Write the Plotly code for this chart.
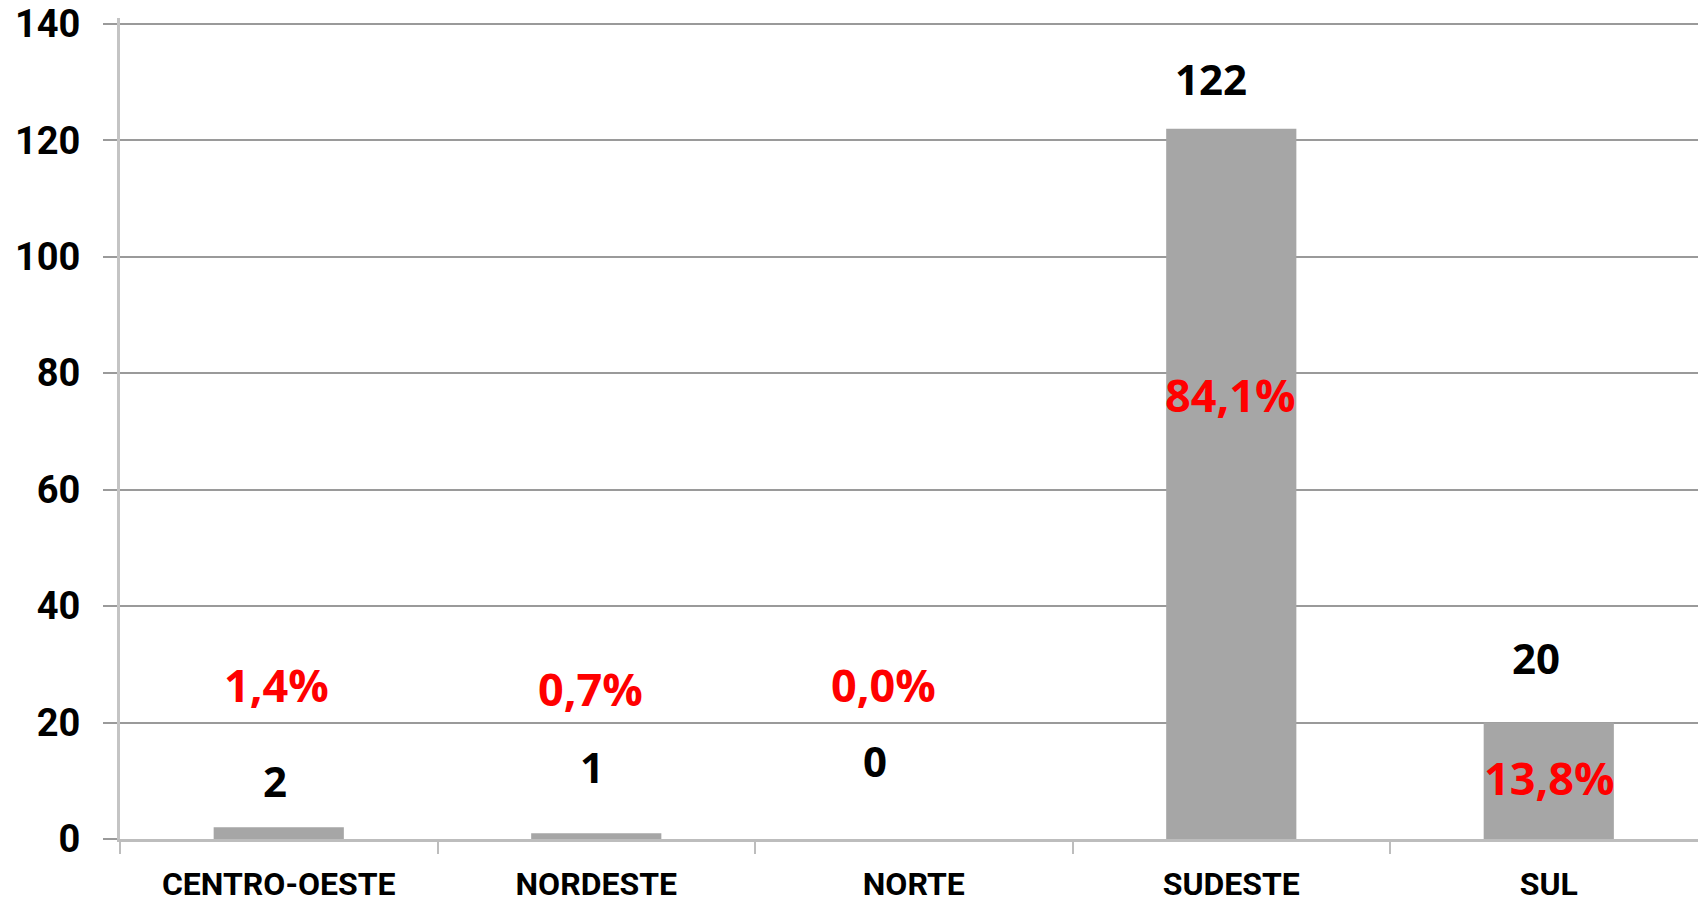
import plotly.graph_objects as go

categories = ["CENTRO-OESTE", "NORDESTE", "NORTE", "SUDESTE", "SUL"]
values = [2, 1, 0, 122, 20]
y_ticks = [0, 20, 40, 60, 80, 100, 120, 140]

# label placement (data-y of label centre, horizontal pixel shift)
count_label_y = [10.1, 12.4, 13.4, 130.6, 31.1]
count_label_dx = [-4, -4, -39, -20, -13]
pct_label_y = [26.6, 25.9, 26.6, 76.3, 10.5]
pct_label_dx = [-2, -6, -30, -1, 1]

total = sum(values)
pct_labels = [f"{v / total * 100:.1f}%".replace(".", ",") for v in values]

FONT = "Open Sans"
AXFONT = "Roboto"
fig = go.Figure()
fig.add_bar(x=categories, y=values, width=0.41, marker=dict(color="#a6a6a6", line=dict(width=0)),
            hoverinfo="x+y")

ann = []
for c, v, ly, dx in zip(categories, values, count_label_y, count_label_dx):
    ann.append(dict(x=c, y=ly, text=f"<b>{v}</b>", showarrow=False, xshift=dx,
                    xanchor="center", yanchor="middle",
                    font=dict(family=FONT, size=42, color="#000000")))
for c, p, ly, dx in zip(categories, pct_labels, pct_label_y, pct_label_dx):
    ann.append(dict(x=c, y=ly, text=f"<b>{p}</b>", showarrow=False, xshift=dx,
                    xanchor="center", yanchor="middle",
                    font=dict(family=FONT, size=45, color="#ff0000")))

fig.update_layout(
    width=1698, height=904,
    margin=dict(l=120, r=0, t=18, b=65),
    paper_bgcolor="white", plot_bgcolor="white",
    showlegend=False,
    annotations=ann,
)
fig.update_xaxes(
    type="category", range=[-0.5, 4.47], automargin=False,
    showline=True, linecolor="#bdbdbd", linewidth=3,
    ticks="outside", tickson="boundaries", ticklen=12, tickcolor="#bdbdbd", tickwidth=2,
    ticklabelstandoff=15,
    tickfont=dict(family=AXFONT, size=32, color="#000000", weight="bold"),
    showgrid=False, zeroline=False,
)
fig.update_yaxes(
    range=[0, 141], tickvals=y_ticks, automargin=False,
    showline=True, linecolor="#c4c4c4", linewidth=3,
    ticks="outside", ticklen=14, tickcolor="#9a9a9a", tickwidth=2,
    ticklabelstandoff=15, ticklabeloverflow="allow",
    showgrid=True, gridcolor="#9a9a9a", gridwidth=2,
    zeroline=False,
    tickfont=dict(family=AXFONT, size=38, color="#000000", weight="bold"),
)

post = ("document.body.style.margin='0';"
        "document.body.style.overflow='hidden';"
        "document.documentElement.style.overflow='hidden';")
fig.write_html("out.html", post_script=post, config={"displayModeBar": False})
